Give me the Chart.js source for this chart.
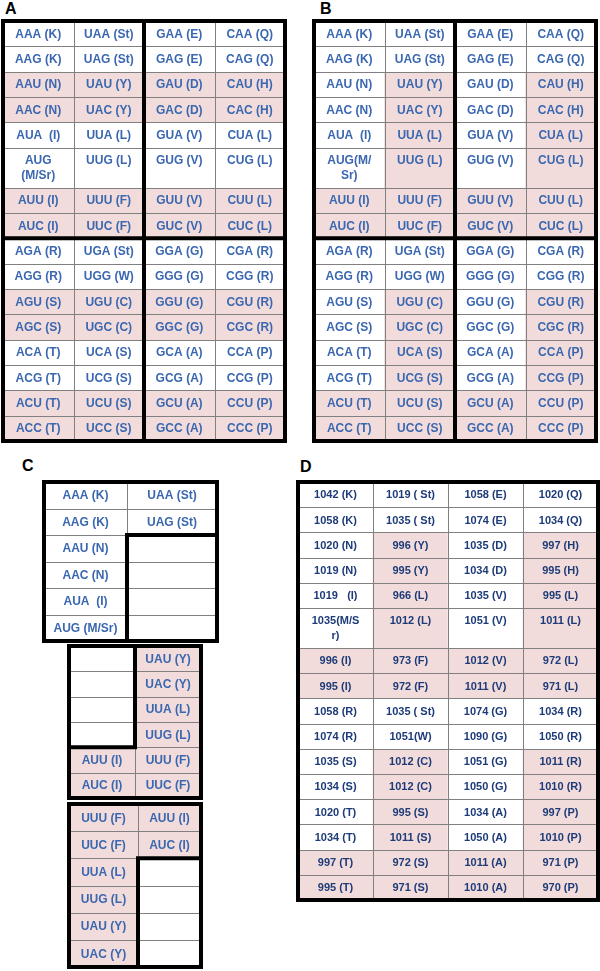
<!DOCTYPE html>
<html><head><meta charset="utf-8">
<script src="https://cdn.jsdelivr.net/npm/chart.js@4/dist/chart.umd.min.js"></script>
<style>
html,body{margin:0;padding:0;background:#fff;width:600px;height:971px;overflow:hidden;position:relative}
.lbl{position:absolute;font:bold 16px "Liberation Sans",Arial,sans-serif;color:#000;line-height:1}
canvas{position:absolute}
</style></head><body>
<div class="lbl" style="left:5px;top:1px">A</div>
<div class="lbl" style="left:320px;top:1px">B</div>
<div class="lbl" style="left:22px;top:458px">C</div>
<div class="lbl" style="left:300px;top:459px">D</div>
<canvas id="cA" width="286" height="424" style="left:1px;top:19px"></canvas>
<canvas id="cB" width="286" height="424" style="left:312px;top:19px"></canvas>
<canvas id="cC1" width="177" height="163" style="left:42px;top:480px"></canvas>
<canvas id="cC2" width="136" height="156" style="left:67px;top:644px"></canvas>
<canvas id="cC3" width="136" height="167" style="left:67px;top:802px"></canvas>
<canvas id="cD" width="304" height="422" style="left:296px;top:480px"></canvas>
<script>
// ---------- DATA ----------
const codonCol1 = ['AAA','AAG','AAU','AAC','AUA','AUG','AUU','AUC','AGA','AGG','AGU','AGC','ACA','ACG','ACU','ACC'];
const aminoCol1 = ['K','K','N','N','I','M/Sr','I','I','R','R','S','S','T','T','T','T'];
const codonCol2 = ['UAA','UAG','UAU','UAC','UUA','UUG','UUU','UUC','UGA','UGG','UGU','UGC','UCA','UCG','UCU','UCC'];
const aminoCol2 = ['St','St','Y','Y','L','L','F','F','St','W','C','C','S','S','S','S'];
const codonCol3 = ['GAA','GAG','GAU','GAC','GUA','GUG','GUU','GUC','GGA','GGG','GGU','GGC','GCA','GCG','GCU','GCC'];
const aminoCol3 = ['E','E','D','D','V','V','V','V','G','G','G','G','A','A','A','A'];
const codonCol4 = ['CAA','CAG','CAU','CAC','CUA','CUG','CUU','CUC','CGA','CGG','CGU','CGC','CCA','CCG','CCU','CCC'];
const aminoCol4 = ['Q','Q','H','H','L','L','L','L','R','R','R','R','P','P','P','P'];

const pinkA = ['0011001100110011','0011001100110011','0011001100110011','0011001100110011'];
const pinkB = ['0000001100000011','0011111100111111','0000001100000011','0011111100111111'];

const cBlock1Codons = [['AAA','AAG','AAU','AAC','AUA','AUG'], ['UAA','UAG','','','','']];
const cBlock1Pink   = ['000000','000000'];
const cBlock2Codons = [['','','','','AUU','AUC'], ['UAU','UAC','UUA','UUG','UUU','UUC']];
const cBlock2Pink   = ['000011','111111'];
const cBlock3Codons = [['UUU','UUC','UUA','UUG','UAU','UAC'], ['AUU','AUC','','','','']];
const cBlock3Pink   = ['111111','110000'];

const dValuesCol1 = [1042,1058,1020,1019,1019,1035,996,995,1058,1074,1035,1034,1020,1034,997,995];
const dValuesCol2 = [1019,1035,996,995,966,1012,973,972,1035,1051,1012,1012,995,1011,972,971];
const dValuesCol3 = [1058,1074,1035,1034,1035,1051,1012,1011,1074,1090,1051,1050,1034,1050,1011,1010];
const dValuesCol4 = [1020,1034,997,995,995,1011,972,971,1034,1050,1011,1010,997,1010,971,970];
const pinkD = ['0000001100000011','0011111100111111','0000001100000011','0011111100111111'];

// ---------- STYLE ----------
const PINK = '#f2dcdb', WHITE = '#ffffff', GRID = '#808080';
const TALL_ROW = 1.58;
const CODON_FONT = 'bold 12px "Liberation Sans", Arial, sans-serif';
const CODON_COLOR = '#3a67b0';
const NUM_FONT = 'bold 11px "Liberation Sans", Arial, sans-serif';
const NUM_COLOR = '#1d3b78';

const aaOf = {};
[[codonCol1,aminoCol1],[codonCol2,aminoCol2],[codonCol3,aminoCol3],[codonCol4,aminoCol4]].forEach(([c,a]) => c.forEach((k,i) => aaOf[k] = a[i]));

function codonLabel(codon, style) {
  if (!codon) return '';
  const aa = aaOf[codon];
  if (aa === 'M/Sr') {
    if (style === 'A') return codon + '\n(M/Sr)';
    if (style === 'B') return codon + '(M/\nSr)';
    return codon + ' (M/Sr)';
  }
  return codon + (codon === 'AUA' ? '  (' : ' (') + aa + ')';
}
function numLabel(n, aa) {
  if (aa === 'M/Sr') return n + '(M/S\nr)';
  if (aa === 'W') return n + '(W)';
  if (aa === 'St') return n + ' ( St)';
  if (n === 1019 && aa === 'I') return n + '   (I)';
  return n + ' (' + aa + ')';
}

function rectOf(el, horiz) {
  const p = el.getProps(['x','y','base','width','height'], true);
  if (!horiz) return {l: p.x - p.width/2, r: p.x + p.width/2, t: Math.min(p.y, p.base), b: Math.max(p.y, p.base)};
  return {l: Math.min(p.x, p.base), r: Math.max(p.x, p.base), t: p.y - p.height/2, b: p.y + p.height/2};
}

function makeTable(id, spec) {
  const cols = spec.labels, nC = cols.length, nR = cols[0].length;
  const horiz = !!spec.horizontal;
  const weights = horiz ? spec.colWeights
    : cols[0].map((_, r) => Math.max(...cols.map(c => c[r].split('\n').length)) > 1 ? TALL_ROW : 1);
  const edges = [0];
  weights.forEach(v => edges.push(edges[edges.length - 1] + v));
  const total = edges[edges.length - 1];
  const isPink = (c, r) => spec.pink[c][r] === '1';
  let data;
  if (!horiz) {
    data = {labels: cols.map((_, c) => 'col' + c),
      datasets: cols[0].map((_, r) => ({data: cols.map(() => [edges[r], edges[r+1]]),
        backgroundColor: cols.map((_, c) => isPink(c, r) ? PINK : WHITE)}))};
  } else {
    data = {labels: cols[0].map((_, r) => 'row' + r),
      datasets: cols.map((col, c) => ({data: col.map(() => [edges[c], edges[c+1]]),
        backgroundColor: col.map((_, r) => isPink(c, r) ? PINK : WHITE)}))};
  }
  data.datasets.forEach(ds => Object.assign(ds, {grouped: false, barPercentage: 1, categoryPercentage: 1, borderWidth: 0}));
  const linear = {type: 'linear', display: false, min: 0, max: total, reverse: !horiz};
  const cat = {type: 'category', display: false, offset: true};

  const plugin = {id: 'cells', afterDatasetsDraw(chart) {
    const ctx = chart.ctx;
    const cell = (c, r) => rectOf(horiz ? chart.getDatasetMeta(c).data[r] : chart.getDatasetMeta(r).data[c], horiz);
    const xs = cols.map((_, c) => cell(c, 0).l); xs.push(cell(nC - 1, 0).r);
    const ys = cols[0].map((_, r) => cell(0, r).t); ys.push(cell(0, nR - 1).b);
    let minH = Infinity;
    for (let r = 0; r < nR; r++) minH = Math.min(minH, ys[r+1] - ys[r]);
    ctx.save();
    ctx.strokeStyle = GRID; ctx.lineWidth = 1; ctx.beginPath();
    xs.forEach(x => { const px = Math.round(x) + 0.5; ctx.moveTo(px, ys[0]); ctx.lineTo(px, ys[nR]); });
    ys.forEach(y => { const py = Math.round(y) + 0.5; ctx.moveTo(xs[0], py); ctx.lineTo(xs[nC], py); });
    ctx.stroke();
    ctx.font = spec.font; ctx.fillStyle = spec.color; ctx.textAlign = 'center'; ctx.textBaseline = 'middle';
    for (let c = 0; c < nC; c++) for (let r = 0; r < nR; r++) {
      const txt = cols[c][r]; if (!txt) continue;
      const rc = cell(c, r);
      const cx = (rc.l + rc.r) / 2, cy = rc.t + minH / 2 + 0.8;
      txt.split('\n').forEach((ln, i) => ctx.fillText(ln, cx, cy + i * 15));
    }
    ctx.strokeStyle = '#000'; ctx.lineWidth = 4; ctx.lineCap = 'square'; ctx.beginPath();
    (spec.thick || []).forEach(s => {
      if (s.v !== undefined) { ctx.moveTo(xs[s.v], ys[s.from]); ctx.lineTo(xs[s.v], ys[s.to]); }
      else { ctx.moveTo(xs[s.from], ys[s.h]); ctx.lineTo(xs[s.to], ys[s.h]); }
    });
    ctx.stroke();
    ctx.lineCap = 'butt'; ctx.lineJoin = 'miter';
    ctx.strokeRect(xs[0], ys[0], xs[nC] - xs[0], ys[nR] - ys[0]);
    ctx.restore();
  }};

  new Chart(document.getElementById(id), {type: 'bar', data,
    options: {indexAxis: horiz ? 'y' : 'x', responsive: false, animation: false, devicePixelRatio: 1,
      layout: {padding: 2}, events: [],
      plugins: {legend: {display: false}, tooltip: {enabled: false}},
      scales: horiz ? {x: linear, y: cat} : {x: cat, y: linear}},
    plugins: [plugin]});
}

const allCodonCols = [codonCol1, codonCol2, codonCol3, codonCol4];
const halvesThick = [{v: 2, from: 0, to: 16}, {h: 8, from: 0, to: 4}];

makeTable('cA', {labels: allCodonCols.map(col => col.map(k => codonLabel(k, 'A'))), pink: pinkA,
  thick: halvesThick, font: CODON_FONT, color: CODON_COLOR});
makeTable('cB', {labels: allCodonCols.map(col => col.map(k => codonLabel(k, 'B'))), pink: pinkB,
  thick: halvesThick, font: CODON_FONT, color: CODON_COLOR});
makeTable('cC1', {labels: cBlock1Codons.map(col => col.map(k => codonLabel(k, 'C'))), pink: cBlock1Pink,
  horizontal: true, colWeights: [83, 90], thick: [{h: 2, from: 1, to: 2}, {v: 1, from: 2, to: 6}],
  font: CODON_FONT, color: CODON_COLOR});
makeTable('cC2', {labels: cBlock2Codons.map(col => col.map(k => codonLabel(k, 'C'))), pink: cBlock2Pink,
  horizontal: true, colWeights: [1, 1], thick: [{v: 1, from: 0, to: 4}, {h: 4, from: 0, to: 1}],
  font: CODON_FONT, color: CODON_COLOR});
makeTable('cC3', {labels: cBlock3Codons.map(col => col.map(k => codonLabel(k, 'C'))), pink: cBlock3Pink,
  horizontal: true, colWeights: [69, 63], thick: [{h: 2, from: 1, to: 2}, {v: 1, from: 2, to: 6}],
  font: CODON_FONT, color: CODON_COLOR});
const dVals = [dValuesCol1, dValuesCol2, dValuesCol3, dValuesCol4];
const aaCols = [aminoCol1, aminoCol2, aminoCol3, aminoCol4];
makeTable('cD', {labels: dVals.map((col, c) => col.map((n, r) => numLabel(n, aaCols[c][r]))), pink: pinkD,
  thick: [], font: NUM_FONT, color: NUM_COLOR});
</script>
</body></html>
